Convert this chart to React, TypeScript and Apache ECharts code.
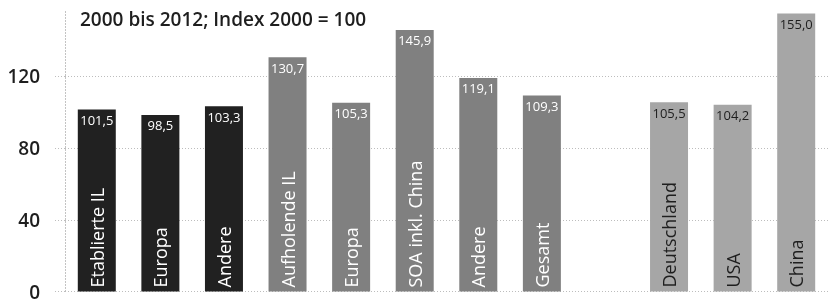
import React, { useEffect, useRef } from "react";
import * as echarts from "echarts";

const categories = [
  "Etablierte IL", "Europa", "Andere", "Aufholende IL", "Europa", "SOA inkl. China",
  "Andere", "Gesamt", "", "Deutschland", "USA", "China",
];
const values: (number | null)[] = [101.5, 98.5, 103.3, 130.7, 105.3, 145.9, 119.1, 109.3, null, 105.5, 104.2, 155.0];
// 0 = etablierte IL, 1 = aufholende IL, 2 = Länder
const groups = [0, 0, 0, 1, 1, 1, 1, 1, -1, 2, 2, 2];
const yTicks = [0, 40, 80, 120];
const title = "2000 bis 2012; Index 2000 = 100";

const barColors = ["#212121", "#808080", "#a6a6a6"];
const textColors = ["#ffffff", "#ffffff", "#1e1e1e"];
const FONT = "Open Sans";
const GRID = "#bdbdbd";

export default function App() {
  const ref = useRef<HTMLDivElement>(null);
  useEffect(() => {
    if (!ref.current) return;
    const chart = echarts.init(ref.current, null, { renderer: "svg" });
    const fmt = (v: number) => v.toFixed(1).replace(".", ",");
    const valueData = values.map((v, i) => {
      const g = groups[i];
      if (v === null || g < 0) return { value: null };
      return {
        value: v,
        itemStyle: { color: barColors[g] },
        label: { color: textColors[g] },
      };
    });
    const nameData = values.map((v, i) => {
      const g = groups[i];
      if (v === null || g < 0) return { value: null };
      return { value: v, label: { color: textColors[g] } };
    });
    chart.setOption({
      animation: false,
      textStyle: { fontFamily: FONT },
      title: {
        text: title,
        left: 75,
        top: 4,
        textStyle: { fontFamily: FONT, fontSize: 19, fontWeight: 600, color: "#1e1e1e" },
      },
      grid: { left: 65, right: 4, top: 10, bottom: 5, containLabel: false },
      xAxis: {
        type: "category",
        data: categories,
        axisLine: { show: false },
        axisTick: { show: false },
        axisLabel: { show: false },
        splitLine: { show: false },
      },
      yAxis: {
        type: "value",
        min: 0,
        max: 157,
        interval: 40,
        axisLine: { show: true, lineStyle: { color: GRID, type: [1, 2], width: 1 } },
        axisTick: { show: true, length: 12, customValues: yTicks, lineStyle: { color: GRID, type: [1, 2] } },
        axisLabel: {
          customValues: yTicks,
          margin: 25,
          fontFamily: FONT,
          fontSize: 19,
          fontWeight: 600,
          color: "#1e1e1e",
          formatter: (v: number) => (v % 40 === 0 ? String(v) : ""),
        },
        splitLine: {
          show: true,
          lineStyle: { color: [GRID, GRID, GRID, GRID, "rgba(0,0,0,0)"], type: [1, 2], width: 1 },
        },
      },
      series: [
        {
          type: "bar",
          data: valueData,
          barWidth: 38,
          barGap: "-100%",
          label: {
            show: true,
            position: "insideTop",
            distance: 4,
            fontFamily: FONT,
            fontSize: 13,
            formatter: (p: any) => fmt(p.value),
          },
        },
        {
          type: "bar",
          data: nameData,
          barWidth: 38,
          barGap: "-100%",
          itemStyle: { color: "rgba(0,0,0,0)" },
          label: {
            show: true,
            position: "insideBottom",
            distance: 4,
            rotate: 90,
            align: "left",
            verticalAlign: "middle",
            fontFamily: FONT,
            fontSize: 18,
            formatter: (p: any) => categories[p.dataIndex],
          },
        },
      ],
    });
    return () => chart.dispose();
  }, []);
  return <div ref={ref} style={{ position: "fixed", left: 0, top: 0, width: 832, height: 301 }} />;
}
